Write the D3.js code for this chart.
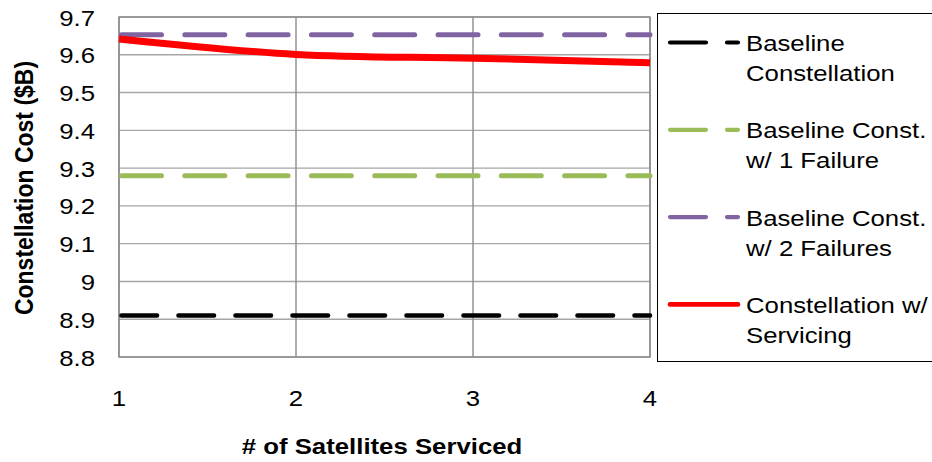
<!DOCTYPE html>
<html>
<head>
<meta charset="utf-8">
<script src="https://cdn.jsdelivr.net/npm/d3@7"></script>
<style>
  html, body { margin: 0; padding: 0; background: #fff; }
  svg { display: block; font-family: "Liberation Sans", Arial, sans-serif; }
</style>
</head>
<body>
<svg id="chart" width="932" height="462"></svg>
<script>
// ---- data ----
const satellitesServiced = [1, 2, 3, 4];
const baselineConstellation = [8.91, 8.91, 8.91, 8.91];
const baselineOneFailure = [9.28, 9.28, 9.28, 9.28];
const baselineTwoFailures = [9.653, 9.653, 9.653, 9.653];
const constellationServicing = [9.642, 9.601, 9.591, 9.579];
const yTicks = [8.8, 8.9, 9, 9.1, 9.2, 9.3, 9.4, 9.5, 9.6, 9.7];
const xTicks = [1, 2, 3, 4];
const legendLabels = [
  ["Baseline", "Constellation"],
  ["Baseline Const.", "w/ 1 Failure"],
  ["Baseline Const.", "w/ 2 Failures"],
  ["Constellation w/", "Servicing"]
];

const svg = d3.select("#chart");
const x = d3.scaleLinear().domain([1, 4]).range([119, 650]);
const y = d3.scaleLinear().domain([8.8, 9.7]).range([357, 17]);
const SX = 1.12; // horizontal text stretch seen in the reference
const fs = 23;

// gridlines
svg.append("g").selectAll("line").data(yTicks).join("line")
  .attr("x1", x(1)).attr("x2", x(4))
  .attr("y1", d => y(d)).attr("y2", d => y(d))
  .attr("stroke", "#a6a6a6").attr("stroke-width", 1.4);
svg.append("g").selectAll("line").data(xTicks).join("line")
  .attr("x1", d => x(d)).attr("x2", d => x(d))
  .attr("y1", y(9.7)).attr("y2", y(8.8))
  .attr("stroke", "#8c8c8c").attr("stroke-width", 1.4);
svg.append("rect")
  .attr("x", x(1)).attr("y", y(9.7))
  .attr("width", x(4) - x(1)).attr("height", y(8.8) - y(9.7))
  .attr("fill", "none").attr("stroke", "#8c8c8c").attr("stroke-width", 1.4);

// y tick labels
svg.append("g").selectAll("text").data(yTicks).join("text")
  .attr("transform", d => `translate(95,${y(d) + 8.5}) scale(${SX},1)`)
  .attr("text-anchor", "end").attr("font-size", fs).attr("fill", "#000")
  .text(d => d3.format("~g")(d));

// x tick labels
svg.append("g").selectAll("text").data(xTicks).join("text")
  .attr("transform", d => `translate(${x(d)},406) scale(${SX},1)`)
  .attr("text-anchor", "middle").attr("font-size", fs).attr("fill", "#000")
  .text(d => d);

// axis titles
svg.append("text")
  .attr("transform", `translate(382,454) scale(${SX},1)`)
  .attr("text-anchor", "middle").attr("font-size", 23).attr("font-weight", "bold")
  .text("# of Satellites Serviced");
svg.append("text")
  .attr("transform", `translate(33,188) rotate(-90) scale(1,${SX})`)
  .attr("text-anchor", "middle").attr("font-size", 23).attr("font-weight", "bold")
  .text("Constellation Cost ($B)");

// series
const series = [
  { vals: baselineConstellation, color: "#000000", width: 4.6, dash: "35.5 21.5", curve: d3.curveLinear },
  { vals: baselineOneFailure, color: "#9bbb59", width: 5, dash: "40 23.3", curve: d3.curveLinear },
  { vals: baselineTwoFailures, color: "#8064a2", width: 5, dash: "40 23.3", curve: d3.curveLinear },
  { vals: constellationServicing, color: "#ff0000", width: 7, dash: null, curve: d3.curveCatmullRom }
];

series.forEach(s => {
  const line = d3.line().x((d, i) => x(satellitesServiced[i])).y(d => y(d)).curve(s.curve);
  const p = svg.append("path")
    .datum(s.vals)
    .attr("fill", "none")
    .attr("stroke", s.color)
    .attr("stroke-width", s.width)
    .attr("d", line);
  if (s.dash) {
    p.attr("stroke-dasharray", s.dash)
     .attr("stroke-dashoffset", -2.5)
     .attr("stroke-linecap", "round");
  } else {
    p.attr("stroke-linecap", "butt");
  }
});

// legend
const lg = svg.append("g");
lg.append("rect")
  .attr("x", 657.5).attr("y", 13.5).attr("width", 320).attr("height", 348)
  .attr("fill", "#fff").attr("stroke", "#000").attr("stroke-width", 1);

const legendTop = 42.5;
const legendStep = 87.3;
series.forEach((s, i) => {
  const ly = legendTop + i * legendStep;
  const seg = lg.append("line")
    .attr("x1", 670).attr("x2", 738)
    .attr("y1", ly).attr("y2", ly)
    .attr("stroke", s.color)
    .attr("stroke-width", s.dash ? 4.2 : 4.6)
    .attr("stroke-linecap", "round");
  if (s.dash) seg.attr("stroke-dasharray", "36 21");
  legendLabels[i].forEach((t, j) => {
    lg.append("text")
      .attr("transform", `translate(746,${ly + 8.5 + j * 30}) scale(${SX},1)`)
      .attr("font-size", fs).attr("fill", "#000")
      .text(t);
  });
});
</script>
</body>
</html>
